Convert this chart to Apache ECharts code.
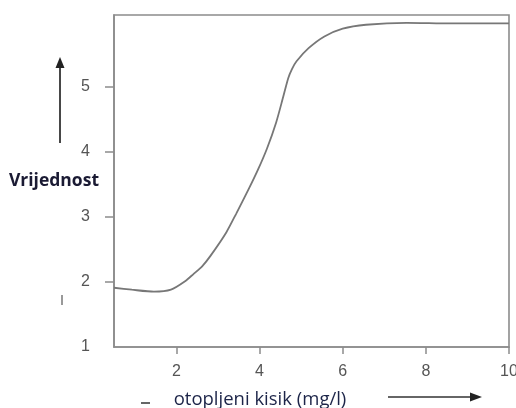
<!DOCTYPE html>
<html>
<head>
<meta charset="utf-8">
<script src="https://cdn.jsdelivr.net/npm/echarts@6/dist/echarts.min.js"></script>
<style>
html,body{margin:0;padding:0;background:#fff;}
#c{width:516px;height:408px;}
</style>
</head>
<body>
<div id="c"></div>
<script>
// Data
const xValues = [0.5, 0.93, 1.46, 1.87, 2.21, 2.41, 2.62, 2.82, 3.20, 3.44, 3.75, 3.96, 4.18, 4.40, 4.56, 4.69, 4.78, 4.89, 5.18, 5.56, 6.0, 6.56, 7.54, 8.6, 10];
const yValues = [1.91, 1.88, 1.85, 1.88, 2.01, 2.12, 2.24, 2.40, 2.76, 3.05, 3.44, 3.72, 4.05, 4.45, 4.82, 5.13, 5.27, 5.39, 5.59, 5.77, 5.89, 5.95, 5.98, 5.97, 5.97];
const xTickValues = [2, 4, 6, 8, 10];
const yLabelValues = [1, 2, 3, 4, 5];
const yTickValues = [2, 3, 4, 5];
const xAxisName = 'otopljeni kisik (mg/l)';
const yAxisName = 'Vrijednost';

const chart = echarts.init(document.getElementById('c'), null, {renderer: 'canvas'});
const labelStyle = {color: '#555', fontSize: 16, fontFamily: 'Liberation Sans, Arial, sans-serif'};
chart.setOption({
  animation: false,
  backgroundColor: '#fff',
  grid: {left: 114, right: 7, top: 15, bottom: 61, containLabel: false, outerBoundsMode: 'none',
         show: true, borderColor: '#8c8c8c', borderWidth: 1.6},
  xAxis: {
    type: 'value', min: 0.5, max: 10,
    splitLine: {show: false},
    axisLine: {show: true, lineStyle: {color: '#8c8c8c', width: 1.6}},
    axisTick: {show: true, customValues: xTickValues, length: 7, lineStyle: {color: '#8c8c8c', width: 1.5}},
    axisLabel: {customValues: xTickValues, margin: 17, ...labelStyle},
    name: xAxisName, nameLocation: 'middle', nameGap: 43, nameMoveOverlap: false,
    nameTextStyle: {color: '#1c2448', fontSize: 18.5, fontFamily: 'Open Sans, sans-serif', padding: [0, 103, 0, 0]}
  },
  yAxis: {
    type: 'value', min: 1, max: 6.1,
    splitLine: {show: false},
    axisLine: {show: true, lineStyle: {color: '#8c8c8c', width: 1.6}},
    axisTick: {show: true, customValues: yTickValues, length: 9, lineStyle: {color: '#8c8c8c', width: 1.5}},
    axisLabel: {customValues: yLabelValues, margin: 24, ...labelStyle},
    name: yAxisName, nameLocation: 'middle', nameRotate: 0, nameGap: 15, nameMoveOverlap: false,
    nameTextStyle: {color: '#1a1a33', fontSize: 17.5, fontWeight: 'bold', fontFamily: 'Open Sans, sans-serif', padding: [3, 0, 0, 0]}
  },
  series: [{
    type: 'line',
    data: xValues.map((x, i) => [x, yValues[i]]),
    smooth: 0.25,
    showSymbol: false,
    lineStyle: {color: '#777', width: 1.8}
  }],
  graphic: [
    {type: 'line', shape: {x1: 60, y1: 143, x2: 60, y2: 66}, style: {stroke: '#333', lineWidth: 1.8}},
    {type: 'polygon', shape: {points: [[60, 57], [55.5, 68], [64.5, 68]]}, style: {fill: '#222'}},
    {type: 'line', shape: {x1: 388, y1: 397, x2: 472, y2: 397}, style: {stroke: '#333', lineWidth: 1.6}},
    {type: 'polygon', shape: {points: [[482, 397], [470, 392.5], [470, 401.5]]}, style: {fill: '#222'}},
    {type: 'line', shape: {x1: 141, y1: 403, x2: 150, y2: 403}, style: {stroke: '#666', lineWidth: 2}},
    {type: 'line', shape: {x1: 62, y1: 295, x2: 62, y2: 305}, style: {stroke: '#777', lineWidth: 1.5}}
  ]
});
</script>
</body>
</html>
